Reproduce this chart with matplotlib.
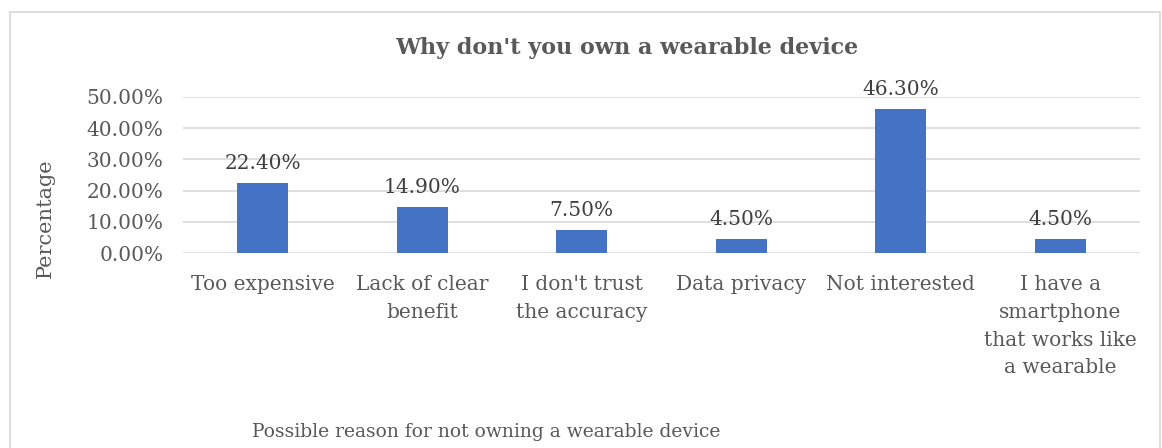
import matplotlib.pyplot as plt
from matplotlib.patches import Rectangle
from matplotlib.ticker import PercentFormatter

reasons = ["Too expensive", "Lack of clear\nbenefit", "I don't trust\nthe accuracy",
           "Data privacy", "Not interested",
           "I have a\nsmartphone\nthat works like\na wearable"]
shares = [0.224, 0.149, 0.075, 0.045, 0.463, 0.045]

plt.rcParams["font.family"] = ["DejaVu Serif"]

fig = plt.figure(figsize=(11.62, 4.48), dpi=100)
ax = fig.add_axes([0.1575, 0.435, 0.8235, 0.3485])

# chart frame
fig.patches.append(Rectangle((10 / 1162, -0.1), 1150 / 1162, 1.1 - 12 / 448,
                             transform=fig.transFigure, fill=False,
                             edgecolor="#d9d9d9", linewidth=1.2))

x = range(len(reasons))
bars = ax.bar(x, shares, width=0.32, color="#4472C4", zorder=3)
for b, v in zip(bars, shares):
    ax.annotate(f"{v * 100:.2f}%", (b.get_x() + b.get_width() / 2, v),
                xytext=(0, 7), textcoords="offset points", ha="center", va="bottom",
                fontsize=14.5, color="#404040")

ax.set_xlim(-0.5, len(reasons) - 0.5)
ax.set_ylim(0, 0.5)
ax.set_yticks([0, 0.1, 0.2, 0.3, 0.4, 0.5])
ax.yaxis.set_major_formatter(PercentFormatter(1.0, decimals=2))
ax.grid(axis="y", color="#d9d9d9", linewidth=1.2, zorder=0)
for s in ax.spines.values():
    s.set_visible(False)
ax.tick_params(length=0, labelsize=14.5, colors="#595959")
ax.tick_params(axis="y", pad=14)
ax.tick_params(axis="x", pad=16)
ax.set_xticks(list(x))
ax.set_xticklabels(reasons, linespacing=1.58)

fig.text(45 / 1162, 1 - 218 / 448, "Percentage", rotation=90, ha="center", va="center",
         fontsize=15, color="#595959")
fig.text(0.418, 0.035, "Possible reason for not owning a wearable device",
         ha="center", va="center", fontsize=13.5, color="#595959")
fig.text(0.539, 0.893, "Why don't you own a wearable device", ha="center", va="center",
         fontsize=16, fontweight="bold", color="#595959")

fig.savefig("out.png", dpi=100)
